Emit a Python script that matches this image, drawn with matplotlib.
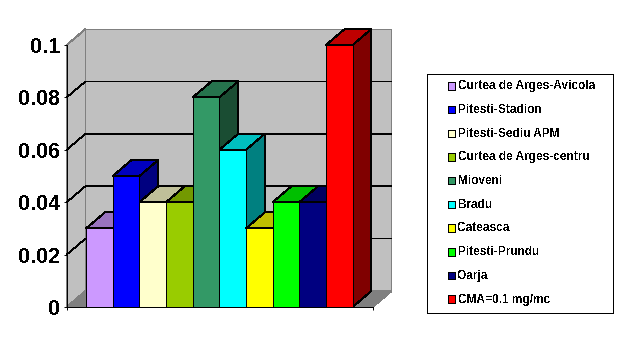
import matplotlib
matplotlib.use('Agg')
import matplotlib.pyplot as plt
from matplotlib.patches import Polygon, Rectangle

plt.rcParams['font.family'] = ['Liberation Sans', 'DejaVu Sans']
plt.rcParams['font.weight'] = 'bold'
plt.rcParams['text.antialiased'] = False

# chart data
stations = ['Curtea de Arges-Avicola', 'Pitesti-Stadion', 'Pitesti-Sediu APM',
            'Curtea de Arges-centru', 'Mioveni', 'Bradu', 'Cateasca',
            'Pitesti-Prundu', 'Oarja', 'CMA=0.1 mg/mc']
values = [0.03, 0.05, 0.04, 0.04, 0.08, 0.06, 0.03, 0.04, 0.04, 0.1]
y_ticks = [0, 0.02, 0.04, 0.06, 0.08, 0.1]
colors = ['#CC99FF', '#0000FF', '#FFFFCC', '#99CC00', '#339966',
          '#00FFFF', '#FFFF00', '#00FF00', '#000080', '#FF0000']

W, H = 627, 354
XMIN, XMAX = -0.728, 10.754  # one bar is one unit wide
DX, DY = 0.705, 0.0061       # fake 3d depth, in data units
WALL = '#C0C0C0'
EDGE = '#808080'
LW = 0.7


def shade(color, factor):
    rgb = matplotlib.colors.to_rgb(color)
    return tuple(c * factor for c in rgb)


def poly(ax, pts, face, edge='black', z=1, lw=LW):
    ax.add_patch(Polygon(pts, closed=True, facecolor=face, edgecolor=edge,
                         linewidth=lw, clip_on=False, zorder=z,
                         antialiased=False))


fig = plt.figure(figsize=(W / 100, H / 100), dpi=100, facecolor='white')
ax = fig.add_axes([66.7 / W, (H - 307) / H, 306 / W, 262 / H])
ax.set_xlim(XMIN, XMAX)
ax.set_ylim(0, 0.1)
ax.patch.set_visible(False)

# walls and floor
top = y_ticks[-1]
poly(ax, [(XMIN, 0), (XMIN + DX, DY), (XMIN + DX, top + DY), (XMIN, top)], WALL, EDGE)
poly(ax, [(XMIN + DX, DY), (XMAX + DX, DY), (XMAX + DX, top + DY), (XMIN + DX, top + DY)], WALL, EDGE)
poly(ax, [(XMIN, 0), (XMAX, 0), (XMAX + DX, DY), (XMIN + DX, DY)], EDGE, EDGE)

# gridlines on both walls
for t in y_ticks[1:-1]:
    ax.plot([XMIN, XMIN + DX, XMAX + DX], [t, t + DY, t + DY], color='black',
            lw=0.55, clip_on=False, zorder=2, antialiased=False)

# bars, left to right so the next one hides the side of the previous
for i, (v, c) in enumerate(zip(values, colors)):
    poly(ax, [(i + 1, 0), (i + 1 + DX, DY), (i + 1 + DX, v + DY), (i + 1, v)], shade(c, 0.5), z=3 + i)
    poly(ax, [(i, v), (i + 1, v), (i + 1 + DX, v + DY), (i + DX, v + DY)], shade(c, 0.75), z=3 + i)
    poly(ax, [(i, 0), (i + 1, 0), (i + 1, v), (i, v)], c, z=3 + i)

for s in ['top', 'right']:
    ax.spines[s].set_visible(False)
for s in ['left', 'bottom']:
    ax.spines[s].set_linewidth(LW)
    ax.spines[s].set_zorder(20)

ax.set_xticks([XMIN, XMAX])
ax.set_xticklabels([])
ax.set_yticks(y_ticks)
ax.set_yticklabels(['%g' % t for t in y_ticks], fontsize=15.5, fontweight='bold')
ax.tick_params(axis='both', length=2.5, width=LW, pad=2.5)

# legend box is laid out in pixels, matplotlib's legend can't do the uneven padding
lax = fig.add_axes([0, 0, 1, 1], facecolor='none')
lax.set_xlim(0, W)
lax.set_ylim(H, 0)
lax.axis('off')
lax.add_patch(Rectangle((426.5, 73.5), 186.5, 239, facecolor='white',
                        edgecolor='black', linewidth=LW, antialiased=False))
for i, (name, c) in enumerate(zip(stations, colors)):
    row = 85.6 + i * 23.7
    lax.add_patch(Rectangle((447.5, row - 3.5), 7.5, 7.5, facecolor=c,
                            edgecolor='black', linewidth=LW, antialiased=False))
    lax.text(458, row + 0.7, name, fontsize=8.6, fontweight='bold', va='center', ha='left')

fig.savefig('out.png', dpi=100)
